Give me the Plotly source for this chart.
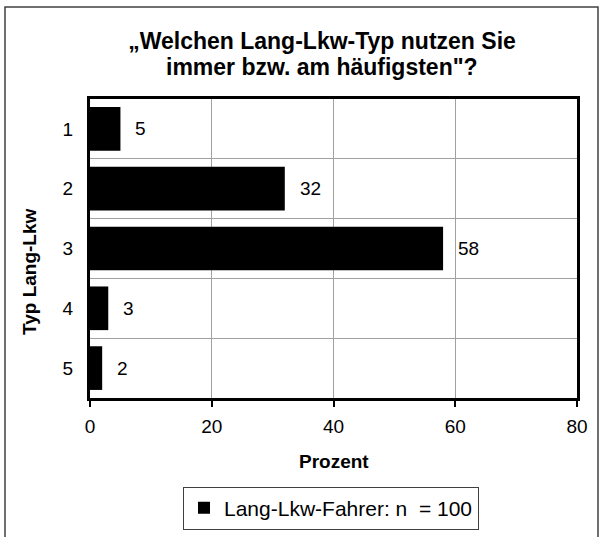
import plotly.graph_objects as go

categories = ["1", "2", "3", "4", "5"]
values = [5, 32, 58, 3, 2]
x_ticks = [0, 20, 40, 60, 80]
series_name = "Lang-Lkw-Fahrer: n  = 100"
title_line1 = "„Welchen Lang-Lkw-Typ nutzen Sie"
title_line2 = "immer bzw. am häufigsten\"?"

FONT = "Liberation Sans, Arial, sans-serif"

fig = go.Figure()
fig.add_trace(go.Bar(
    x=values, y=categories, orientation="h", name=series_name,
    marker=dict(color="black", line=dict(width=0)), width=0.73,
    showlegend=True,
))

for i, v in enumerate(values):
    fig.add_annotation(x=v, y=i, text=str(v), showarrow=False, xanchor="left",
                       xshift=13, font=dict(size=19, color="black", family=FONT))

L, R, T, B = 90, 27, 99, 139
W, H = 604, 537
pw, ph = W - L - R, H - T - B

def px_x(px):
    return (px - L) / pw

def px_y(py):
    return (H - B - py) / ph

fig.add_annotation(x=px_x(322), y=px_y(67), xref="paper", yref="paper", text="<b>" + title_line2 + "</b>",
                   showarrow=False, xanchor="center", yanchor="middle",
                   font=dict(size=23, color="black", family=FONT))
fig.add_annotation(x=px_x(29), y=px_y(272), xref="paper", yref="paper", text="<b>Typ Lang-Lkw</b>",
                   textangle=-90, showarrow=False, xanchor="center", yanchor="middle",
                   font=dict(size=19, color="black", family=FONT))
fig.add_annotation(x=px_x(334), y=px_y(461), xref="paper", yref="paper", text="<b>Prozent</b>",
                   showarrow=False, xanchor="center", yanchor="middle",
                   font=dict(size=19, color="black", family=FONT))

fig.add_shape(type="rect", xref="paper", yref="paper",
              x0=px_x(5), x1=px_x(598), y0=px_y(7), y1=px_y(545),
              line=dict(color="#404040", width=1.5), layer="below")

fig.update_layout(
    width=W, height=H,
    margin=dict(l=L, r=R, t=T, b=B, autoexpand=False),
    paper_bgcolor="white", plot_bgcolor="white",
    font=dict(family=FONT, size=19, color="black"),
    title=dict(text="<b>" + title_line1 + "</b>", x=322 / W, xanchor="center",
               y=1 - 41 / H, yanchor="middle", font=dict(size=23, color="black", family=FONT)),
    xaxis=dict(range=[0, 80], tickvals=x_ticks, showgrid=True, gridcolor="#a0a0a0", gridwidth=1,
               showline=True, linecolor="black", linewidth=3, mirror=True,
               ticks="outside", ticklen=6, tickwidth=2, tickcolor="black",
               tickfont=dict(size=19), zeroline=False, automargin=False, ticklabelstandoff=3),
    yaxis=dict(type="category", categoryorder="array", categoryarray=categories, autorange="reversed",
               tickson="boundaries", showgrid=True, gridcolor="#a0a0a0", gridwidth=1,
               showline=True, linecolor="black", linewidth=3, mirror=True,
               ticks="", ticklabelstandoff=10, tickfont=dict(size=19), automargin=False),
    legend=dict(orientation="h", xref="container", yref="container",
                x=331 / W, xanchor="center", y=1 - 508 / H, yanchor="middle",
                bordercolor="#404040", borderwidth=1, bgcolor="white",
                font=dict(size=21, color="black", family=FONT), itemwidth=30,
                traceorder="normal"),
    bargap=0.27,
)

fig.write_html("out.html", config={"displayModeBar": False},
               post_script="document.body.style.margin='0';")
